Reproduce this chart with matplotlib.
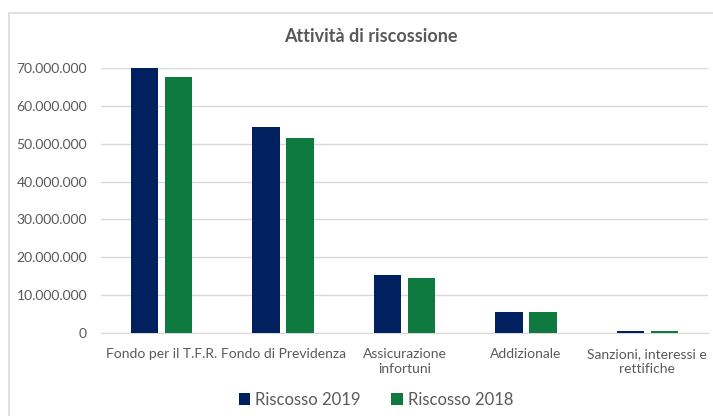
import numpy as np
import matplotlib.pyplot as plt
from matplotlib.patches import Rectangle
from matplotlib.ticker import FuncFormatter

plt.rcParams['font.family'] = ['Lato', 'DejaVu Sans']

categorie = ["Fondo per il T.F.R.", "Fondo di Previdenza", "Assicurazione\ninfortuni",
             "Addizionale", "Sanzioni, interessi e\nrettifiche"]
riscosso_2019 = [70000000, 54400000, 15300000, 5500000, 500000]
riscosso_2018 = [67700000, 51400000, 14500000, 5500000, 500000]

blu = "#002060"
verde = "#0F7A40"
grigio = "#595959"

fig = plt.figure(figsize=(7.13, 4.16), dpi=100)
# cornice grigia del riquadro del grafico
cornice = Rectangle((9 / 713, -0.1), 1.1, 1 - 13 / 416 + 0.1,
                    transform=fig.transFigure, facecolor="white",
                    edgecolor="#D9D9D9", linewidth=1.2, zorder=-10)
fig.patches.append(cornice)
ax = fig.add_axes([101 / 713, 1 - 333 / 416, 607 / 713, 265 / 416])
ax.set_zorder(2)

x = np.arange(len(categorie))
w = 0.225
ax.bar(x - 0.14, riscosso_2019, width=w, color=blu, label="Riscosso 2019", zorder=3)
ax.bar(x + 0.14, riscosso_2018, width=w, color=verde, label="Riscosso 2018", zorder=3)

ax.set_xlim(-0.5, 4.5)
ax.set_ylim(0, 70000000)
ax.set_yticks(np.arange(0, 70000001, 10000000))
ax.yaxis.set_major_formatter(FuncFormatter(lambda v, p: f"{int(v):,}".replace(",", ".")))
ax.set_xticks(x)
ax.set_xticklabels(categorie, fontsize=10, color=grigio, linespacing=1.3)
ax.tick_params(axis="y", length=0, pad=10, labelsize=10, labelcolor=grigio)
ax.tick_params(axis="x", length=0, pad=11)
ax.grid(axis="y", color="#D9D9D9", linewidth=1, zorder=0)
for s in ["top", "right", "left"]:
    ax.spines[s].set_visible(False)
ax.spines["bottom"].set_color("#D9D9D9")
ax.set_facecolor("none")

fig.text(0.52, 1 - 37 / 416, "Attività di riscossione", ha="center", va="center",
         fontsize=13, fontweight="bold", color=grigio)

fig.legend(loc="center", bbox_to_anchor=(376 / 713, 1 - 400 / 416), ncol=2, frameon=False,
           fontsize=12, labelcolor=grigio, handlelength=0.7, handleheight=0.7,
           handletextpad=0.3, columnspacing=1.8)

fig.savefig("out.png", dpi=100)
